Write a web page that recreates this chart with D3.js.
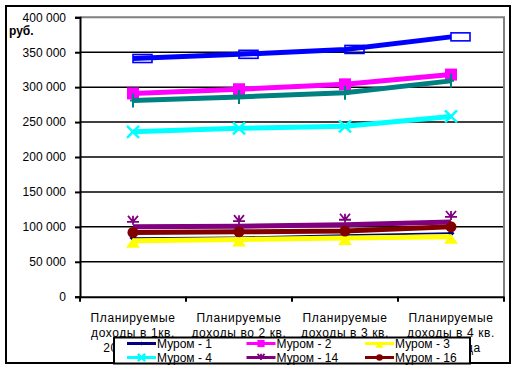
<!DOCTYPE html>
<html><head><meta charset="utf-8">
<script src="https://cdn.jsdelivr.net/npm/d3@7"></script>
<style>
body{margin:0;background:#fff;}
text{font-family:"Liberation Sans",Arial,sans-serif;}
</style></head>
<body><svg id="c" width="515" height="369"></svg>
<script>
const categories = [
  ["Планируемые","доходы в 1кв.","2012 года"],
  ["Планируемые","доходы во 2 кв.","2012 года"],
  ["Планируемые","доходы в 3 кв.","2012 года"],
  ["Планируемые","доходы в 4 кв.","2012 года"]
];
const yTicks = [0,50000,100000,150000,200000,250000,300000,350000,400000];
const murom1  = [84000, 85000, 88000, 91000];
const murom2  = [291000, 297000, 304000, 318000];
const murom3  = [80000, 82000, 84000, 86000];
const murom4  = [236000, 241000, 244000, 258000];
const murom14 = [100000, 101000, 103000, 107000];
const murom16 = [92000, 93000, 94000, 100000];
const muromA  = [341000, 347000, 354000, 372000];
const muromB  = [281000, 286000, 292000, 309000];

const series = [
  {name:"Муром - 1", values:murom1, color:"#000080", w:1.8, marker:"diamond", legend:true},
  {name:"Муром - 2", values:murom2, color:"#FF00FF", w:5, marker:"square", legend:true},
  {name:"Муром - 3", values:murom3, color:"#FFFF00", w:5, marker:"triangle", legend:true},
  {name:"Муром - 4", values:murom4, color:"#00FFFF", w:5, marker:"x", legend:true},
  {name:"Муром - A", values:muromA, color:"#0000FF", w:5, marker:"openrect", legend:false},
  {name:"Муром - B", values:muromB, color:"#008080", w:5, marker:"plus", legend:false},
  {name:"Муром - 14", values:murom14, color:"#800080", w:5, marker:"star", legend:true},
  {name:"Муром - 16", values:murom16, color:"#800000", w:5, marker:"circle", legend:true}
];

const svg = d3.select("#c");
const L=80, R=504, T=17.3, B=296.7;
const x = d3.scaleBand().domain(d3.range(categories.length)).range([L,R]);
const y = d3.scaleLinear().domain([0,400000]).range([B,T]);
const cx = i => x(i) + x.bandwidth()/2;

svg.append("rect").attr("x",6).attr("y",6).attr("width",504).attr("height",357)
  .attr("fill","none").attr("stroke","#000").attr("stroke-width",2);

svg.append("g").selectAll("line").data(yTicks.filter(v=>v>0 && v<400000)).join("line")
  .attr("x1",L).attr("x2",R).attr("y1",d=>y(d)).attr("y2",d=>y(d))
  .attr("stroke","#000").attr("stroke-width",1.5);
svg.append("path").attr("d",`M${L},${y(400000)}H${R}V${B}`).attr("fill","none")
  .attr("stroke","#808080").attr("stroke-width",2);

const fmt = v => d3.format(",")(v).replace(/,/g," ");
const ya = svg.append("g").attr("transform",`translate(${L},0)`)
  .call(d3.axisLeft(y).tickValues(yTicks).tickFormat(fmt).tickSize(5).tickPadding(9));
ya.select(".domain").attr("stroke","#000").attr("stroke-width",2);
ya.selectAll(".tick line").attr("stroke","#000").attr("stroke-width",2);
ya.selectAll("text").attr("font-size",12).attr("fill","#000")
  .attr("font-family","Liberation Sans, Arial, sans-serif");

const xa = svg.append("g").attr("transform",`translate(0,${B})`)
  .call(d3.axisBottom(x).tickSize(0).tickFormat(""));
xa.select(".domain").attr("stroke","#000").attr("stroke-width",2);
svg.append("g").selectAll("line").data(d3.range(categories.length+1)).join("line")
  .attr("x1",i=> i<categories.length ? x(i) : R).attr("x2",i=> i<categories.length ? x(i) : R)
  .attr("y1",B).attr("y2",B+5).attr("stroke","#000").attr("stroke-width",2);
categories.forEach((c,i)=>{
  const t = svg.append("text").attr("x",cx(i)).attr("y",322).attr("text-anchor","middle")
    .attr("font-size",12).attr("fill","#000").attr("letter-spacing","0.6px");
  c.forEach((s,j)=> t.append("tspan").attr("x",cx(i)).attr("dy", j===0?0:15).text(s));
});

svg.append("text").attr("x",9).attr("y",35).attr("font-size",12).attr("font-weight","bold")
  .attr("fill","#000").text("руб.");

function drawMarker(g, type, px, py, color, s){
  s = s||1;
  if(type==="square") g.append("rect").attr("x",px-6*s).attr("y",py-6*s).attr("width",12*s).attr("height",12*s).attr("fill",color);
  else if(type==="diamond") g.append("path").attr("d",`M${px},${py-3.5*s}L${px+3.5*s},${py}L${px},${py+3.5*s}L${px-3.5*s},${py}Z`).attr("fill",color);
  else if(type==="triangle") g.append("path").attr("d",`M${px},${py-3*s}L${px+7*s},${py+7*s}L${px-7*s},${py+7*s}Z`).attr("fill",color);
  else if(type==="x") g.append("path").attr("d",`M${px-6*s},${py-6*s}L${px+6*s},${py+6*s}M${px+6*s},${py-6*s}L${px-6*s},${py+6*s}`).attr("fill","none").attr("stroke",color).attr("stroke-width",2.5);
  else if(type==="plus") g.append("path").attr("d",`M${px},${py-7*s}V${py+7*s}M${px-3*s},${py}H${px+3*s}`).attr("fill","none").attr("stroke",color).attr("stroke-width",2);
  else if(type==="openrect") g.append("rect").attr("x",px).attr("y",py-4*s).attr("width",19*s).attr("height",8*s).attr("fill","none").attr("stroke",color).attr("stroke-width",1.6);
  else if(type==="star") g.append("path").attr("d",`M${px},${py-11*s}V${py-2*s}M${px-5*s},${py-11*s}L${px},${py-5*s}L${px+5*s},${py-11*s}M${px-6*s},${py-5*s}L${px+6*s},${py-5*s}`).attr("fill","none").attr("stroke",color).attr("stroke-width",1.8);
  else if(type==="circle") g.append("circle").attr("cx",px).attr("cy",py).attr("r",5.5*s).attr("fill",color);
}

const line = d3.line().x((d,i)=>cx(i)).y(d=>y(d));
series.forEach(s=>{
  const g = svg.append("g");
  g.append("path").attr("d",line(s.values)).attr("fill","none").attr("stroke",s.color)
    .attr("stroke-width",s.w).attr("stroke-linejoin","round");
  s.values.forEach((v,i)=>drawMarker(g,s.marker,cx(i),y(v),s.color));
});

const lg = svg.append("g");
lg.append("rect").attr("x",114).attr("y",337.5).attr("width",356).attr("height",26)
  .attr("fill","#fff").attr("stroke","#000").attr("stroke-width",2);
const legItems = series.filter(s=>s.legend);
const colX = [127, 246.5, 365];
legItems.forEach((s,k)=>{
  const col = k%3, row = Math.floor(k/3);
  const lx = colX[col], ly = 343.5 + row*14;
  lg.append("line").attr("x1",lx).attr("x2",lx+29).attr("y1",ly).attr("y2",ly)
    .attr("stroke",s.color).attr("stroke-width",3);
  const ms = s.marker==="star" ? 0.7 : 0.6;
  drawMarker(lg, s.marker, lx+14.5, s.marker==="star" ? ly+4 : ly, s.color, ms);
  lg.append("text").attr("x",lx+30).attr("y",ly+4.5).attr("font-size",12).attr("fill","#000").text(s.name);
});
</script></body></html>
